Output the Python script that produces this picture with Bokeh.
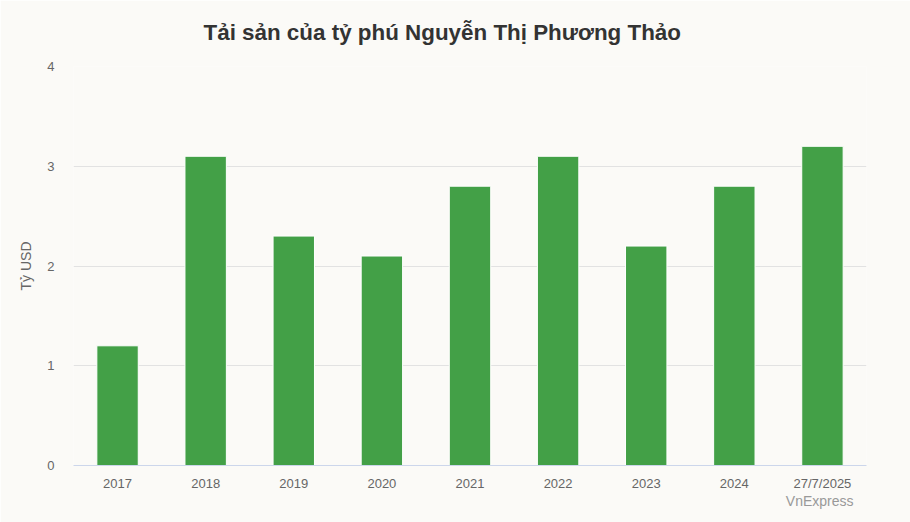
from bokeh.plotting import figure
from bokeh.models import FactorRange, Range1d, FixedTicker, Title
from bokeh.embed import file_html
from bokeh.resources import INLINE

categories = ["2017", "2018", "2019", "2020", "2021", "2022", "2023", "2024", "27/7/2025"]
values = [1.2, 3.1, 2.3, 2.1, 2.8, 3.1, 2.2, 2.8, 3.2]
y_ticks = [0, 1, 2, 3, 4]

BG = "#fbfaf7"
FONT = "Liberation Sans"

p = figure(x_range=FactorRange(*categories, range_padding=0), y_range=Range1d(0, 4),
           width=910, height=522, output_backend="svg", toolbar_location=None,
           min_border_left=73, min_border_right=44, min_border_top=65, min_border_bottom=57)
p.background_fill_color = BG
p.border_fill_color = BG
p.outline_line_color = None

p.vbar(x=categories, top=values, width=0.47, fill_color="#43a047", line_color="#ffffff", line_width=1)

p.title.text = "Tải sản của tỷ phú Nguyễn Thị Phương Thảo"
p.title.align = "left"
p.title.offset = 130
p.title.text_font = FONT
p.title.text_font_size = "22.4px"
p.title.text_font_style = "bold"
p.title.text_color = "#333333"
p.title.standoff = 39
p.title.vertical_align = "top"

p.yaxis.ticker = FixedTicker(ticks=y_ticks)
p.yaxis.axis_line_color = None
p.yaxis.major_tick_line_color = None
p.yaxis.minor_tick_line_color = None
p.yaxis.major_label_text_font = FONT
p.yaxis.major_label_text_font_size = "13px"
p.yaxis.major_label_text_color = "#666666"
p.yaxis.major_label_standoff = 13
p.yaxis.axis_label = "Tỷ USD"
p.yaxis.axis_label_text_font = FONT
p.yaxis.axis_label_text_font_size = "14px"
p.yaxis.axis_label_text_font_style = "normal"
p.yaxis.axis_label_text_color = "#666666"
p.yaxis.axis_label_standoff = 10

p.xaxis.axis_line_color = "#ccd6eb"
p.xaxis.axis_line_width = 1
p.xaxis.major_tick_line_color = None
p.xaxis.minor_tick_line_color = None
p.xaxis.major_label_text_font = FONT
p.xaxis.major_label_text_font_size = "13px"
p.xaxis.major_label_text_color = "#666666"
p.xaxis.major_label_standoff = 4

p.xgrid.grid_line_color = None
p.ygrid.grid_line_color = "#e2e2e2"
p.ygrid.grid_line_width = 1

credit = Title(text="VnExpress", align="right", offset=13, text_font=FONT, text_font_size="14px",
               text_font_style="normal", text_color="#999999", standoff=-6)
p.add_layout(credit, "below")

open("out.html", "w").write(file_html(p, INLINE))
